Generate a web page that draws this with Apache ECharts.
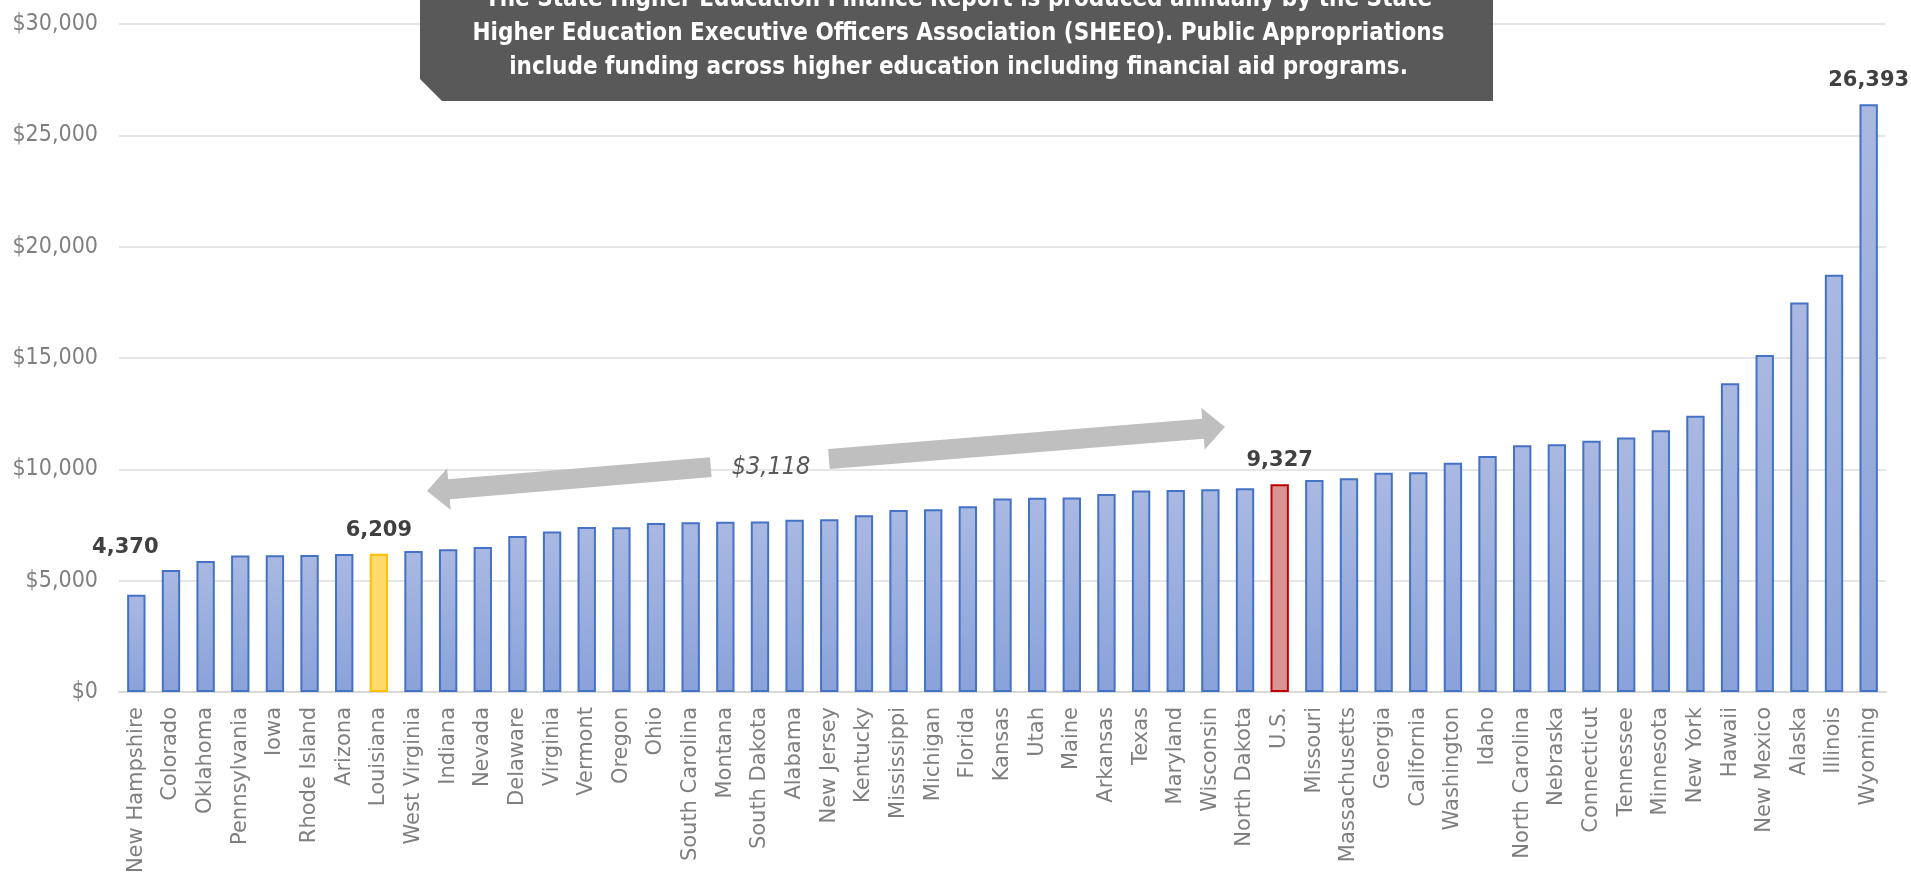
<!DOCTYPE html>
<html><head><meta charset="utf-8">
<script src="https://cdn.jsdelivr.net/npm/echarts@6/dist/echarts.min.js"></script>
<style>html,body{margin:0;padding:0;background:#fff;overflow:hidden}#c{width:1911px;height:877px}</style>
</head><body><div id="c"></div>
<script>
// ---- data ----
const states = ['New Hampshire','Colorado','Oklahoma','Pennsylvania','Iowa','Rhode Island','Arizona','Louisiana','West Virginia','Indiana','Nevada','Delaware','Virginia','Vermont','Oregon','Ohio','South Carolina','Montana','South Dakota','Alabama','New Jersey','Kentucky','Mississippi','Michigan','Florida','Kansas','Utah','Maine','Arkansas','Texas','Maryland','Wisconsin','North Dakota','U.S.','Missouri','Massachusetts','Georgia','California','Washington','Idaho','North Carolina','Nebraska','Connecticut','Tennessee','Minnesota','New York','Hawaii','New Mexico','Alaska','Illinois','Wyoming'];
const values = [4370,5480,5880,6130,6140,6150,6200,6209,6330,6410,6510,7010,7210,7410,7400,7590,7620,7650,7660,7740,7760,7940,8170,8210,8340,8690,8720,8740,8890,9050,9070,9100,9150,9327,9520,9600,9850,9870,10300,10600,11080,11130,11280,11430,11760,12410,13870,15130,17490,18740,26393];
const labeledStates = ['New Hampshire','Louisiana','U.S.','Wyoming'];
const yTicks = [0,5000,10000,15000,20000,25000,30000];
const gapLabel = '$3,118';
const noteLines = [
  'The State Higher Education Finance Report is produced annually by the State',
  'Higher Education Executive Officers Association (SHEEO). Public Appropriations',
  'include funding across higher education including financial aid programs.'
];

// ---- styles ----
const COND = "'DejaVu Sans Condensed','Liberation Sans Narrow','DejaVu Sans',sans-serif";
const blueFill = new echarts.graphic.LinearGradient(0,0,0,1,[{offset:0,color:'#AAB9E2'},{offset:1,color:'#8AA2DA'}]);
const specialStyle = {
  'Louisiana': {color:'#FFDA6C', borderColor:'#FFC000'},
  'U.S.': {color:'#D99594', borderColor:'#C00000'}
};
const labelOffset = {'New Hampshire':[-11,-24]};

const seriesData = states.map((s,i)=>{
  const item = {value: values[i]};
  if (specialStyle[s]) item.itemStyle = Object.assign({borderWidth:2}, specialStyle[s]);
  if (labeledStates.includes(s)) {
    item.label = {show:true, position:'top', distance:13, offset: labelOffset[s] || [0,0],
      formatter: p => p.value.toLocaleString('en-US'),
      color:'#404040', fontWeight:'bold', fontSize:21, fontFamily:"'DejaVu Sans',sans-serif"};
  }
  return item;
});

const chart = echarts.init(document.getElementById('c'), null, {renderer:'canvas'});
chart.setOption({
  animation:false,
  grid:{left:119, right:25, top:24, bottom:185, containLabel:false},
  xAxis:{type:'category', data:states,
    axisTick:{show:false},
    axisLine:{lineStyle:{color:'#D9D9D9', width:2}},
    axisLabel:{interval:0, rotate:90, margin:15, color:'#7F7F7F', fontSize:21, fontFamily:"'DejaVu Sans',sans-serif"}
  },
  yAxis:{type:'value', min:yTicks[0], max:yTicks[yTicks.length-1], interval:yTicks[1]-yTicks[0],
    axisLine:{show:false}, axisTick:{show:false},
    splitLine:{lineStyle:{color:'#E6E6E6', width:2}},
    axisLabel:{margin:21, color:'#7F7F7F', fontSize:23, fontFamily:COND,
      formatter: v => '$' + v.toLocaleString('en-US')}
  },
  series:[{type:'bar', data:seriesData, barWidth:'53%',
    itemStyle:{color:blueFill, borderColor:'#4472C4', borderWidth:2},
    label:{show:false}
  }]
});

// ---- annotations anchored in data space (category index, value) ----
const leftArrow = {tail:[16.58,10100], tip:[8.39,9025]};
const rightArrow = {tail:[19.99,10460], tip:[31.42,11900]};
const gapLabelAt = [18.32,10100];

function px(pt){
  const i0 = Math.floor(pt[0]), f = pt[0]-i0;
  const a = chart.convertToPixel({xAxisIndex:0,yAxisIndex:0},[i0,pt[1]]);
  const b = chart.convertToPixel({xAxisIndex:0,yAxisIndex:0},[i0+1,pt[1]]);
  return [a[0]+(b[0]-a[0])*f, a[1]];
}
function arrowPoints(tail, tip, h, H, L){
  const dx=tip[0]-tail[0], dy=tip[1]-tail[1], len=Math.hypot(dx,dy);
  const ux=dx/len, uy=dy/len, nx=-uy, ny=ux;
  const bx=tip[0]-ux*L, by=tip[1]-uy*L;
  return [
    [tail[0]+nx*h, tail[1]+ny*h],[bx+nx*h, by+ny*h],[bx+nx*H, by+ny*H],[tip[0],tip[1]],
    [bx-nx*H, by-ny*H],[bx-nx*h, by-ny*h],[tail[0]-nx*h, tail[1]-ny*h]
  ];
}
const lt = px(leftArrow.tail), lp = px(leftArrow.tip);
const rt = px(rightArrow.tail), rp = px(rightArrow.tip);
const gl = px(gapLabelAt);

// note box geometry
const boxL = 420, boxR = 1493, boxB = 101, chamfer = 22;
chart.setOption({graphic:[
  {type:'polygon', z:100, shape:{points:arrowPoints(lt,lp,10,21,22)}, style:{fill:'#BFBFBF'}},
  {type:'polygon', z:100, shape:{points:arrowPoints(rt,rp,10,21,22)}, style:{fill:'#BFBFBF'}},
  {type:'text', z:101, x:gl[0], y:gl[1], style:{text:gapLabel, fill:'#595959', fontSize:25, fontStyle:'italic', fontFamily:COND, align:'center', verticalAlign:'middle'}},
  {type:'polygon', z:100, shape:{points:[[boxL,-5],[boxR,-5],[boxR,boxB],[boxL+chamfer,boxB],[boxL,boxB-chamfer]]}, style:{fill:'#595959'}},
  {type:'text', z:101, x:(boxL+boxR)/2+2, y:-17, style:{text:noteLines.join('\n'), fill:'#FFFFFF', fontSize:24, fontWeight:'bold', lineHeight:34, fontFamily:COND, align:'center', verticalAlign:'top'}}
]});
</script>
</body></html>
